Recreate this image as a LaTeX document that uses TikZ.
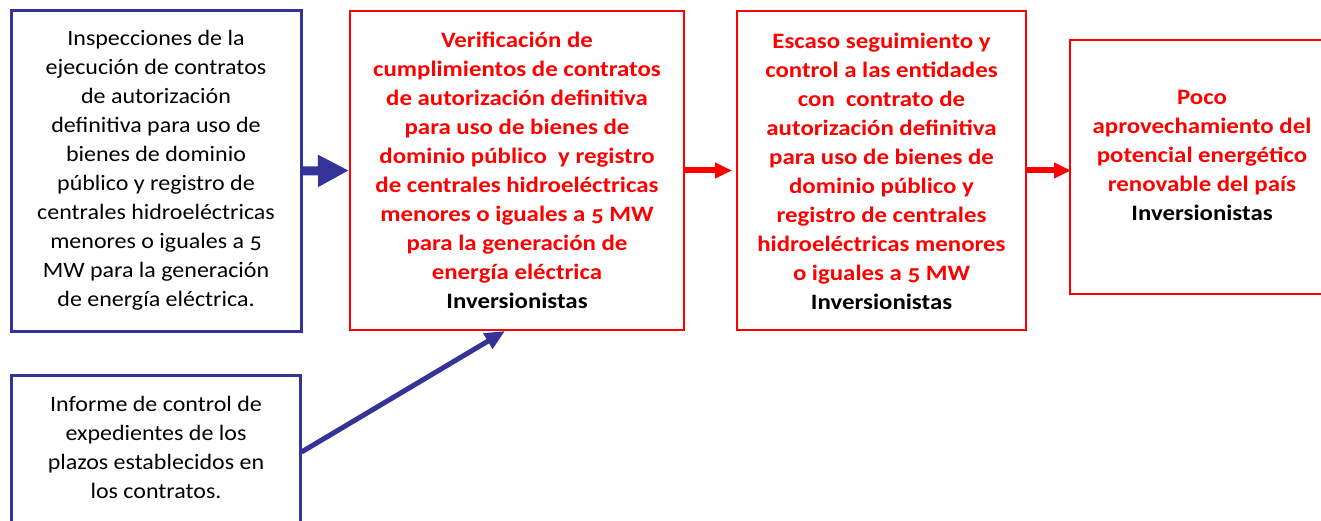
\documentclass[tikz,border=0pt]{standalone}
\usepackage{fontspec}
\setmainfont{Carlito}[Numbers=OldStyle, FakeStretch=1.09, BoldFeatures={FakeStretch=1.13}]
\usetikzlibrary{arrows.meta}
\definecolor{myblue}{RGB}{51,51,153}
\definecolor{myred}{RGB}{255,0,0}
\tikzset{
  bluebox/.style={draw=myblue, line width=3pt, minimum width=#1, inner sep=0pt},
  redbox/.style={draw=myred, line width=2pt, inner sep=0pt},
  txt/.style={align=center, font=\fontsize{22}{29}\selectfont, inner sep=0pt},
  rtxt/.style={txt, text=myred, font=\fontsize{22}{29}\selectfont\bfseries},
  fatarrow/.style={draw=myblue, line width=9pt, -{Triangle[length=31pt,width=30pt]}},
  bluearrow/.style={draw=myblue, line width=5pt, -{Triangle[length=20pt,width=17pt]}},
  redarrow/.style={draw=myred, line width=6pt, -{Triangle[length=17pt,width=15pt]}}
}
\begin{document}
\begin{tikzpicture}[x=1pt,y=-1pt]
\useasboundingbox (0,0) rectangle (1321,521);
\clip (0,0) rectangle (1321,521);
% boxes
\node[bluebox=290pt, minimum height=320pt] (A) at (156,171) {};
\node[bluebox=289pt, minimum height=154pt] (B) at (155.5,452) {};
\node[redbox, minimum width=334pt, minimum height=319pt] (C) at (517,170.5) {};
\node[redbox, minimum width=289pt, minimum height=319pt] (D) at (881.5,170.5) {};
\node[redbox, minimum width=266pt, minimum height=254pt] (E) at (1203,167) {};
% texts
\node[txt] (At) at (156,170) {Inspecciones de la\\ejecución de contratos\\de autorización\\definitiva para uso de\\bienes de dominio\\público y registro de\\centrales hidroeléctricas\\menores o iguales a 5\\MW para la generación\\de energía eléctrica.};
\node[txt] (Bt) at (156,447) {Informe de control de\\expedientes de los\\plazos establecidos en\\los contratos.};
\node[rtxt] (Ct) at (517,170) {Verificación de\\cumplimientos de contratos\\de autorización definitiva\\para uso de bienes de\\dominio público \ y registro\\de centrales hidroeléctricas\\menores o iguales a 5 MW\\para la generación de\\energía eléctrica\\\textcolor{black}{Inversionistas}};
\node[rtxt] (Dt) at (881.5,171) {Escaso seguimiento y\\control a las entidades\\con \ contrato de\\autorización definitiva\\para uso de bienes de\\dominio público y\\registro de centrales\\hidroeléctricas menores\\o iguales a 5 MW\\\textcolor{black}{Inversionistas}};
\node[rtxt] (Et) at (1202,155) {Poco\\aprovechamiento del\\potencial energético\\renovable del país\\\textcolor{black}{Inversionistas}};
% connectors
\draw[fatarrow] (A.east) -- (C.west);
\draw[bluearrow] (B.east) -- ([xshift=-12pt]C.south);
\draw[redarrow] (C.east) -- ([xshift=-4pt]D.west);
\draw[redarrow] (D.east) -- ([xshift=2pt]E.west |- D.east);
\end{tikzpicture}
\end{document}
